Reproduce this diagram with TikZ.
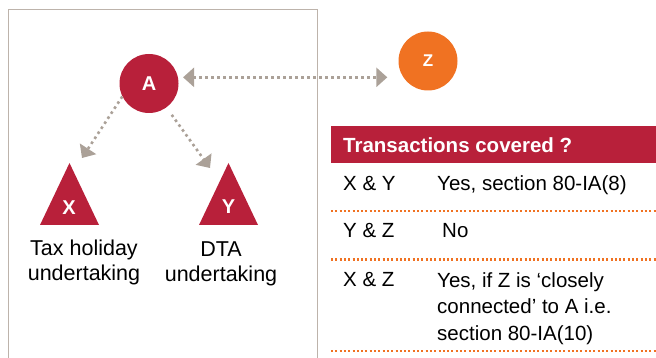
\documentclass[tikz,border=0pt]{standalone}
\usepackage{fontspec}
\setmainfont{Liberation Sans}
\usetikzlibrary{
	arrows.meta,
	positioning,
	calc
}
\definecolor{kred}{HTML}{B8203A}
\definecolor{korange}{HTML}{F07222}
\definecolor{kgrey}{HTML}{ABA198}
\definecolor{kframe}{HTML}{BDB3AB}
\tikzset{
	ent/.style={circle, minimum size=59pt, inner sep=0pt, text=white, font=\fontsize{20}{24}\selectfont\bfseries},
	rel/.style={kgrey, line width=2.6pt, dash pattern=on 2.6pt off 3.4pt, >={Triangle[length=11pt,width=19pt]}},
	lab/.style={inner sep=0pt, align=center, font=\fontsize{21.5}{25.5}\selectfont},
	cell/.style={inner sep=0pt, anchor=base west, align=left, font=\fontsize{20.5}{26.5}\selectfont},
	sep/.style={korange, line width=2pt, dash pattern=on 2pt off 2.3pt}
}
\begin{document}
\begin{tikzpicture}[x=1pt, y=-1pt]

		\useasboundingbox (0,0) rectangle (656,358);
		\draw[kframe, line width=1pt] (8,370) -- (8,9.5) -- (317,9.5) -- (317,370);

		\node[ent, fill=kred] (A) at (149,83.5) {A};
		\node[ent, fill=korange, font=\fontsize{17}{20}\selectfont\bfseries] (Z) at (428,61) {Z};

		\coordinate (Xtop) at (69.5,163);
		\coordinate (Ytop) at (228.5,163);
		\fill[kred] (Xtop) --++ (29.5,62) --++ (-59,0) -- cycle;
		\fill[kred] (Ytop) --++ (29.5,62) --++ (-59,0) -- cycle;
		\node[ent, minimum size=0pt] (X) at (69,208) {X};
		\node[ent, minimum size=0pt] (Y) at (228.5,207) {Y};

		\coordinate (Xend) at (82,158);
		\coordinate (Yend) at (210,168);

		\draw[rel, <->, shorten <=5pt, shorten >=11pt] (A.12) -- (A.12 -| Z.west);
		\draw[rel, ->] (A.206) -- (Xend);
		\draw[rel, ->, shorten <=9pt] (A.306) -- (Yend);

		\node[lab, anchor=base] (Xlab) at (84,280.5) {Tax holiday\\undertaking};
		\node[lab, anchor=base] (Ylab) at (221,281.5) {DTA\\undertaking};

		\fill[kred] (331,126) rectangle (656,163);
		\node[cell, text=white, font=\fontsize{20.5}{24}\selectfont\bfseries] (head) at (343,153) {Transactions covered ?};

		\node[cell] (r1) at (343,191) {X \& Y};
		\node[cell] (r1v) at (437,191) {Yes, section 80-IA(8)};
		\node[cell] (r2) at (343,238) {Y \& Z};
		\node[cell] (r2v) at (442,238) {No};
		\node[cell] (r3) at (343,287) {X \& Z};
		\node[cell] (r3v) at (437,340) {Yes, if Z is ‘closely\\connected’ to A i.e.\\section 80-IA(10)};

		\foreach \y in {210.7,259.5,351} {
		\draw[sep] (331,\y) -- (656,\y);
		}

	\end{tikzpicture}
\end{document}
